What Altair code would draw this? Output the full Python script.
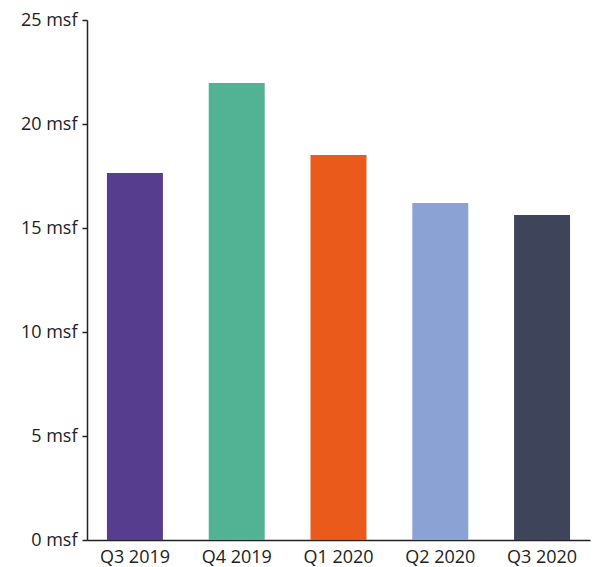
import altair as alt
import pandas as pd

quarters = ["Q3 2019", "Q4 2019", "Q1 2020", "Q2 2020", "Q3 2020"]
values = [17.64, 21.97, 18.51, 16.2, 15.63]
colors = ["#563d8e", "#52b294", "#e95a1b", "#8ba3d4", "#3e4459"]
y_ticks = [0, 5, 10, 15, 20, 25]

df = pd.DataFrame({"quarter": quarters, "value": values})

chart = alt.Chart(df).mark_bar().encode(
    x=alt.X("quarter:N", sort=quarters, title=None,
            scale=alt.Scale(paddingInner=0.45, paddingOuter=0.196),
            axis=alt.Axis(labelAngle=0, ticks=False, labelPadding=8,
                          domainColor="#222222", domainWidth=1.5)),
    y=alt.Y("value:Q", title=None,
            scale=alt.Scale(domain=[0, 25], nice=False, zero=True),
            axis=alt.Axis(values=y_ticks, labelExpr="datum.value + ' msf'",
                          grid=False, tickSize=5, labelPadding=5,
                          domainColor="#222222", tickColor="#222222",
                          domainWidth=1.5, tickWidth=1.5)),
    color=alt.Color("quarter:N", sort=quarters,
                    scale=alt.Scale(domain=quarters, range=colors), legend=None),
).properties(
    width=503, height=520,
    autosize=alt.AutoSizeParams(type="none"),
    padding={"left": 87, "top": 20, "right": 6, "bottom": 27},
).configure_view(
    stroke=None
).configure_axis(
    labelFont="Open Sans", labelFontSize=18, labelColor="#222222"
)

chart.save("out.html", embed_options={"renderer": "svg", "actions": False})
